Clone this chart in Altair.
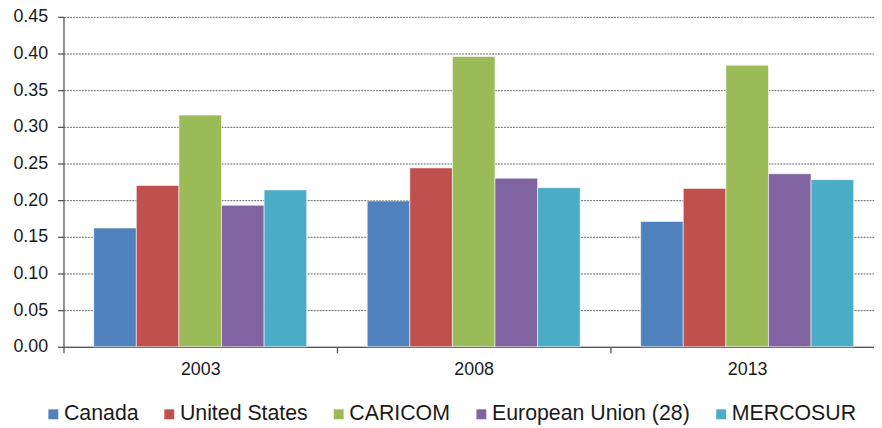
import altair as alt
import pandas as pd

years = ["2003", "2008", "2013"]
groups = ["Canada", "United States", "CARICOM", "European Union (28)", "MERCOSUR"]
canada = [0.162, 0.199, 0.171]
united_states = [0.220, 0.244, 0.216]
caricom = [0.316, 0.396, 0.384]
eu28 = [0.193, 0.230, 0.236]
mercosur = [0.214, 0.217, 0.228]
colors = ["#4F81BD", "#C0504D", "#9BBB59", "#8064A2", "#4BACC6"]
y_ticks = [0.0, 0.05, 0.10, 0.15, 0.20, 0.25, 0.30, 0.35, 0.40, 0.45]

series = [canada, united_states, caricom, eu28, mercosur]
rows = []
for g, vals in zip(groups, series):
    for y, v in zip(years, vals):
        rows.append({"year": y, "group": g, "value": v})
df = pd.DataFrame(rows)

FONT = "Liberation Sans"
AX = "#555555"

chart = alt.Chart(df).mark_bar(stroke="white", strokeWidth=0.8, strokeOpacity=0.7).encode(
    x=alt.X("year:N", sort=years,
            scale=alt.Scale(paddingInner=0, paddingOuter=0, range=[0, 828]),
            axis=alt.Axis(title=None, labelAngle=0, tickBand="extent", tickSize=6,
                          tickColor=AX, domainColor=AX, domainWidth=1.3, tickWidth=1.3,
                          labelFont=FONT, labelFontSize=18, labelColor="#1a1a1a",
                          labelPadding=8, grid=False)),
    xOffset=alt.XOffset("group:N", sort=groups,
                        scale=alt.Scale(paddingOuter=0.71, paddingInner=0)),
    y=alt.Y("value:Q", scale=alt.Scale(domain=[0, 0.45], nice=False),
            axis=alt.Axis(title=None, values=y_ticks, format=".2f", grid=True,
                          gridDash=[2, 1], gridColor="#666666", gridWidth=1,
                          tickSize=6, tickColor=AX, tickWidth=1.3,
                          domainColor=AX, domainWidth=1.3,
                          labelFont=FONT, labelFontSize=18, labelColor="#1a1a1a",
                          labelPadding=10)),
    color=alt.Color("group:N", sort=groups,
                    scale=alt.Scale(domain=groups, range=colors),
                    legend=alt.Legend(title=None, orient="none", legendX=-21, legendY=390,
                                      direction="horizontal", symbolType="square",
                                      symbolSize=100, symbolStrokeWidth=0,
                                      labelFont=FONT, labelFontSize=21.5, labelLimit=0,
                                      labelColor="#1a1a1a", labelOffset=0,
                                      columnPadding=20, padding=0)),
).properties(
    width=816, height=333,
    autosize=alt.AutoSizeParams(type="none"),
    padding={"left": 56, "top": 7, "right": 2, "bottom": 78},
).configure_view(stroke=None)

chart.save("out.html", embed_options={"renderer": "svg", "actions": False})
